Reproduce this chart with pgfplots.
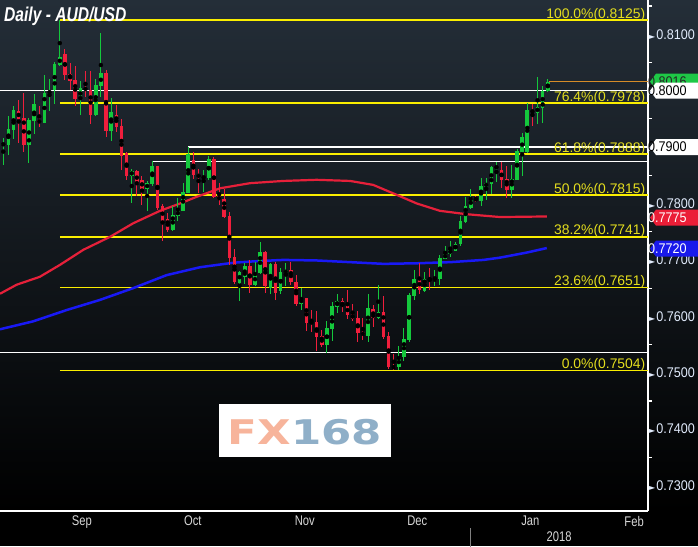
\documentclass[border=0pt]{standalone}
\usepackage{fontspec}
\setmainfont{Liberation Sans}
\newfontfamily\tickfont[FakeStretch=0.9]{Liberation Sans}
\newfontfamily\monthfont[FakeStretch=0.8]{Liberation Sans}
\newfontfamily\titlefont[FakeStretch=0.78]{Liberation Sans}
\newfontfamily\symfont{DejaVu Sans}
\newfontfamily\logofont[FakeStretch=1.28]{DejaVu Sans}
\usepackage{pgfplots}
\pgfplotsset{compat=1.18}
\usepackage{pgfplotstable}
\usetikzlibrary{backgrounds}

\definecolor{bgtop}{RGB}{36,46,56}
\definecolor{bgmid}{RGB}{17,22,27}
\definecolor{candup}{RGB}{20,200,60}
\definecolor{canddn}{RGB}{240,30,60}
\definecolor{fib}{RGB}{250,238,0}
\definecolor{fibtext}{RGB}{228,222,30}
\definecolor{ma100}{RGB}{230,32,58}
\definecolor{ma200}{RGB}{25,25,245}
\definecolor{ticktext}{RGB}{225,235,252}
\definecolor{monthgray}{RGB}{215,215,215}
\definecolor{lastpx}{RGB}{215,140,40}
\definecolor{tagred}{RGB}{235,30,55}
\definecolor{tagblue}{RGB}{25,25,235}
\definecolor{taggreen}{RGB}{30,200,70}
\definecolor{fxorange}{RGB}{247,180,155}
\definecolor{fxblue}{RGB}{143,175,200}

% daily candles: index, open, high, low, close
\pgfplotstableread{
i o h l c
0 0.7904 0.7916 0.7868 0.7906
1 0.7904 0.7955 0.7886 0.7932
2 0.7930 0.7973 0.7914 0.7965
3 0.7964 0.7984 0.7907 0.7950
4 0.7952 0.7996 0.7891 0.7904
5 0.7904 0.7952 0.7872 0.7948
6 0.7946 0.7994 0.7923 0.7976
7 0.7948 0.7973 0.7936 0.7943
8 0.7943 0.8028 0.7942 0.7996
9 0.7995 0.8021 0.7964 0.8000
10 0.8001 0.8050 0.7976 0.8047
11 0.8046 0.8125 0.8044 0.8060
12 0.8066 0.8074 0.8019 0.8028
13 0.8030 0.8050 0.8001 0.8018
14 0.8019 0.8044 0.7972 0.7985
15 0.7985 0.8017 0.7957 0.8005
16 0.8005 0.8035 0.7989 0.8001
17 0.8001 0.8035 0.7941 0.7957
18 0.7957 0.8021 0.7956 0.8010
19 0.8008 0.8102 0.7989 0.8031
20 0.8031 0.8037 0.7918 0.7929
21 0.7929 0.7987 0.7911 0.7962
22 0.7957 0.7975 0.7927 0.7936
23 0.7937 0.7950 0.7859 0.7885
24 0.7889 0.7892 0.7842 0.7849
25 0.7849 0.7861 0.7801 0.7858
26 0.7858 0.7859 0.7813 0.7834
27 0.7842 0.7849 0.7797 0.7826
28 0.7826 0.7840 0.7787 0.7836
29 0.7835 0.7875 0.7831 0.7866
30 0.7866 0.7867 0.7788 0.7793
31 0.7796 0.7799 0.7734 0.7768
32 0.7772 0.7783 0.7750 0.7753
33 0.7753 0.7796 0.7751 0.7780
34 0.7778 0.7809 0.7769 0.7788
35 0.7787 0.7836 0.7786 0.7820
36 0.7819 0.7900 0.7818 0.7888
37 0.7877 0.7891 0.7843 0.7851
38 0.7852 0.7861 0.7819 0.7846
39 0.7846 0.7859 0.7821 0.7847
40 0.7846 0.7884 0.7842 0.7879
41 0.7879 0.7882 0.7810 0.7812
42 0.7813 0.7836 0.7797 0.7806
43 0.7808 0.7826 0.7774 0.7777
44 0.7778 0.7785 0.7691 0.7704
45 0.7706 0.7719 0.7657 0.7660
46 0.7660 0.7680 0.7628 0.7679
47 0.7670 0.7694 0.7657 0.7689
48 0.7689 0.7700 0.7642 0.7656
49 0.7656 0.7697 0.7653 0.7676
50 0.7676 0.7731 0.7675 0.7714
51 0.7714 0.7715 0.7641 0.7653
52 0.7650 0.7694 0.7640 0.7693
53 0.7693 0.7697 0.7629 0.7641
54 0.7645 0.7685 0.7640 0.7679
55 0.7676 0.7695 0.7653 0.7682
56 0.7682 0.7697 0.7656 0.7661
57 0.7660 0.7673 0.7618 0.7622
58 0.7622 0.7650 0.7611 0.7632
59 0.7632 0.7633 0.7574 0.7589
60 0.7590 0.7611 0.7573 0.7588
61 0.7590 0.7610 0.7539 0.7564
62 0.7565 0.7576 0.7545 0.7549
63 0.7549 0.7592 0.7535 0.7579
64 0.7578 0.7625 0.7557 0.7618
65 0.7617 0.7640 0.7606 0.7627
66 0.7627 0.7632 0.7608 0.7617
67 0.7620 0.7647 0.7596 0.7602
68 0.7604 0.7622 0.7591 0.7595
69 0.7597 0.7610 0.7555 0.7571
70 0.7572 0.7597 0.7558 0.7566
71 0.7565 0.7640 0.7555 0.7615
72 0.7613 0.7620 0.7582 0.7597
73 0.7597 0.7656 0.7596 0.7608
74 0.7608 0.7636 0.7560 0.7563
75 0.7565 0.7572 0.7507 0.7510
76 0.7512 0.7534 0.7505 0.7508
77 0.7510 0.7547 0.7505 0.7528
78 0.7527 0.7580 0.7521 0.7560
79 0.7558 0.7642 0.7555 0.7638
80 0.7636 0.7682 0.7629 0.7667
81 0.7667 0.7694 0.7640 0.7647
82 0.7645 0.7679 0.7644 0.7666
83 0.7666 0.7685 0.7647 0.7663
84 0.7663 0.7682 0.7653 0.7667
85 0.7666 0.7709 0.7656 0.7703
86 0.7702 0.7724 0.7701 0.7711
87 0.7711 0.7734 0.7706 0.7718
88 0.7716 0.7731 0.7715 0.7729
89 0.7728 0.7778 0.7725 0.7769
90 0.7767 0.7812 0.7765 0.7796
91 0.7793 0.7826 0.7790 0.7810
92 0.7810 0.7813 0.7803 0.7805
93 0.7805 0.7846 0.7796 0.7831
94 0.7830 0.7846 0.7806 0.7836
95 0.7835 0.7866 0.7817 0.7865
96 0.7864 0.7874 0.7838 0.7865
97 0.7859 0.7874 0.7828 0.7842
98 0.7844 0.7866 0.7810 0.7824
99 0.7824 0.7868 0.7810 0.7844
100 0.7842 0.7896 0.7841 0.7893
101 0.7891 0.7925 0.7849 0.7918
102 0.7892 0.7979 0.7889 0.7966
103 0.7966 0.7976 0.7938 0.7961
104 0.7961 0.8025 0.7941 0.7971
105 0.7970 0.8008 0.7943 0.8000
106 0.8000 0.8021 0.7997 0.8016
}\candles

\pgfplotsset{
  wick/.style={only marks, mark=none, forget plot,
    error bars/y dir=both, error bars/y explicit, error bars/error mark=none,
    error bars/error bar style={line width=1pt, draw=#1}},
  body/.style={only marks, mark=none, forget plot,
    error bars/y dir=both, error bars/y explicit, error bars/error mark=none,
    error bars/error bar style={line width=3.6pt, draw=#1}},
}

\newcommand{\pricetag}[4]{%
  \fill[#2, shift={(#1)}] (2,0) -- (8,8) -- (60,8) -- (60,-8) -- (8,-8) -- cycle;
  \node[shift={(#1)}, anchor=west, inner sep=0pt, text=#3,
    font=\tickfont\fontsize{14}{14}\selectfont] at (9,0) {#4};}

\begin{document}
\begin{tikzpicture}[x=1pt,y=1pt]
\begin{axis}[
    scale only axis, width=648pt, height=511pt,
    xmin=-0.64, xmax=125.5, ymin=0.72548, ymax=0.81608,
    clip=false,
    axis x line*=bottom, axis y line*=right,
    axis line style={draw=white, line width=1.4pt, -},
    tick align=outside,
    major tick length=0pt, minor tick length=4pt,
    tick style={white, line width=1.2pt},
    xtick=\empty,
    minor xtick={5.2,26.2,48.2,70.0,91.0,114.0},
    extra x ticks={15.3,36.9,58.7,80.6,102.6,122.8},
    extra x tick labels={Sep,Oct,Nov,Dec,Jan,Feb},
    xticklabel style={font=\monthfont\fontsize{14}{14}\selectfont,
      text=monthgray, inner sep=0pt, yshift=-5pt},
    ytick={0.73,0.74,0.75,0.76,0.77,0.78,0.79,0.80,0.81},
    minor ytick={0.735,0.745,0.755,0.765,0.775,0.785,0.795,0.805,0.815},
    scaled y ticks=false,
    yticklabel={{\symfont\fontsize{8}{8}\selectfont ►}\hspace{1pt}\pgfmathprintnumber[fixed,fixed zerofill,precision=4,assume math mode=true]{\tick}},
    yticklabel style={anchor=west, inner sep=0pt, xshift=1pt,
      text=ticktext, font=\tickfont\fontsize{14}{14}\selectfont},
]

% horizontal levels
\addplot[white, line width=1.2pt] coordinates {(-0.64,0.8000) (125.5,0.8000)};
\addplot[white, line width=1.2pt] coordinates {(-0.64,0.7536) (125.5,0.7536)};
\addplot[white, line width=1.2pt] coordinates {(36,0.7900) (125.5,0.7900)};
\addplot[white, line width=1.2pt] coordinates {(29,0.7875) (125.5,0.7875)};
\addplot[lastpx, line width=1pt] coordinates {(106.3,0.8016) (125.5,0.8016)};
\foreach \v in {0.8125,0.7978,0.7888,0.7815,0.7741,0.7651,0.7504}{
  \edef\temp{\noexpand\addplot[fib, line width=1.5pt] coordinates {(11,\v) (125.5,\v)};}
  \temp
}

% moving averages
\addplot[ma100, line width=2.2pt, line join=round] coordinates {
(-0.64,0.7640) (2.6,0.7656) (7.1,0.7670) (11.0,0.7691) (15.6,0.7718) (20.8,0.7741)
(25.3,0.7765) (30.5,0.7787) (34.4,0.7800) (37.7,0.7812) (42.2,0.7827) (48.0,0.7836)
(54.5,0.7840) (61.0,0.7842) (67.5,0.7840) (72.0,0.7833) (75.9,0.7818) (80.5,0.7800)
(85.0,0.7787) (90.2,0.7781) (96.7,0.7776) (105.8,0.7777)};
\addplot[ma200, line width=2.5pt, line join=round] coordinates {
(-0.64,0.7577) (5.8,0.7591) (12.3,0.7611) (18.8,0.7629) (25.3,0.7650) (31.8,0.7673)
(38.3,0.7687) (44.8,0.7695) (48.0,0.7697) (54.5,0.7700) (61.0,0.7699) (67.5,0.7696)
(74.0,0.7693) (80.5,0.7694) (87.0,0.7696) (93.5,0.7700) (96.7,0.7704) (101.9,0.7713)
(105.8,0.7721)};

% candles
\addplot[x filter/.expression={\thisrow{c}>=\thisrow{o} ? x : nan}, wick=candup]
  table[x=i, y expr={(\thisrow{h}+\thisrow{l})/2}, y error expr={(\thisrow{h}-\thisrow{l})/2}] {\candles};
\addplot[x filter/.expression={\thisrow{c}<\thisrow{o} ? x : nan}, wick=canddn]
  table[x=i, y expr={(\thisrow{h}+\thisrow{l})/2}, y error expr={(\thisrow{h}-\thisrow{l})/2}] {\candles};
\addplot[x filter/.expression={\thisrow{c}>=\thisrow{o} ? x : nan}, body=candup]
  table[x=i, y expr={(\thisrow{o}+\thisrow{c})/2}, y error expr={max(abs(\thisrow{c}-\thisrow{o})/2,0.00009)}] {\candles};
\addplot[x filter/.expression={\thisrow{c}<\thisrow{o} ? x : nan}, body=canddn]
  table[x=i, y expr={(\thisrow{o}+\thisrow{c})/2}, y error expr={max(abs(\thisrow{c}-\thisrow{o})/2,0.00009)}] {\candles};

% Fibonacci labels
\foreach \v/\p in {0.8125/100.0,0.7978/76.4,0.7888/61.8,0.7815/50.0,0.7741/38.2,0.7651/23.6,0.7504/0.0}{
  \edef\temp{\noexpand\node[anchor=base east, inner sep=0pt, text=fibtext,
    font=\noexpand\fontsize{13.9}{14}\noexpand\selectfont, xshift=-2.5pt, yshift=1.8pt]
    at (axis cs:125.5,\v) {\p\noexpand\%(\v)};}
  \temp
}

\node[anchor=north, inner sep=0pt, text=monthgray, font=\monthfont\fontsize{14}{14}\selectfont,
  yshift=-21pt] at (axis cs:108.2,0.72548) {2018};
\coordinate (LL) at (rel axis cs:0,0);
\coordinate (sepA) at (axis cs:91,0.72548);
\coordinate (tagA) at (axis cs:125.5,0.8016);
\coordinate (tagB) at (axis cs:125.5,0.8000);
\coordinate (tagC) at (axis cs:125.5,0.7900);
\coordinate (tagD) at (axis cs:125.5,0.7775);
\coordinate (tagE) at (axis cs:125.5,0.7720);
\end{axis}

\draw[gray, line width=0.6pt] (sepA) ++(0,-17) -- ++(0,-20);

\pricetag{tagA}{taggreen}{black!85}{0.8016}
\pricetag{tagB}{white}{black}{0.8000}
\pricetag{tagC}{white}{black}{0.7900}
\pricetag{tagD}{tagred}{white}{0.7775}
\pricetag{tagE}{tagblue}{white}{0.7720}

% image frame: origin at the picture's lower left corner, 35pt below the axis
\begin{scope}[shift={(LL)}, yshift=-35pt]
  \begin{pgfonlayer}{background}
    \fill[black] (0,0) rectangle (698,36);
    \shade[top color=bgtop, middle color=bgmid, bottom color=black] (0,35) rectangle (698,546);
  \end{pgfonlayer}
  \node[anchor=base west, inner sep=0pt, text=white,
    font=\titlefont\bfseries\itshape\fontsize{20}{20}\selectfont] at (4,524) {Daily - AUD/USD};
  \fill[white] (219,89) rectangle (391,142);
  \node at (305,113.5) {\logofont\bfseries\fontsize{34}{34}\selectfont\textcolor{fxorange}{FX}\textcolor{fxblue}{168}};
  \pgfresetboundingbox
  \useasboundingbox (0,0) rectangle (698,546);
\end{scope}
\end{tikzpicture}
\end{document}
